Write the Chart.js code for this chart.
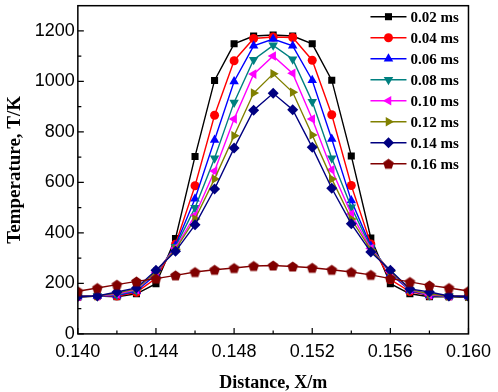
<!DOCTYPE html>
<html>
<head>
<meta charset="utf-8">
<script src="https://cdn.jsdelivr.net/npm/chart.js@4.4.1/dist/chart.umd.min.js"></script>
<style>
  body { margin: 0; background: #fff; }
  #wrap { width: 498px; height: 392px; }
</style>
</head>
<body>
<div id="wrap"><canvas id="myChart"></canvas></div>
<script>
// distance along X (m)
const distance = [0.140, 0.141, 0.142, 0.143, 0.144, 0.145, 0.146, 0.147, 0.148, 0.149, 0.150,
  0.151, 0.152, 0.153, 0.154, 0.155, 0.156, 0.157, 0.158, 0.159, 0.160];

const seriesNames = ["0.02 ms", "0.04 ms", "0.06 ms", "0.08 ms", "0.10 ms", "0.12 ms", "0.14 ms", "0.16 ms"];

// temperature (K) at each time
const t002 = [145, 150, 147, 159, 199, 378, 703, 1004, 1149, 1180, 1184, 1180, 1149, 1005, 705, 380, 199, 159, 147, 147, 145];
const t004 = [148, 150, 150, 165, 220, 355, 587, 866, 1082, 1170, 1176, 1174, 1084, 868, 588, 356, 215, 168, 152, 150, 148];
const t006 = [148, 150, 152, 170, 235, 350, 535, 768, 1000, 1141, 1168, 1141, 1005, 772, 528, 348, 238, 172, 152, 150, 148];
const t008 = [148, 150, 155, 172, 242, 345, 500, 696, 917, 1086, 1143, 1088, 920, 696, 502, 342, 245, 174, 153, 150, 148];
const t010 = [148, 150, 158, 175, 244, 340, 470, 645, 851, 1029, 1101, 1032, 851, 650, 475, 338, 246, 175, 155, 150, 148];
const t012 = [148, 150, 162, 178, 246, 335, 455, 614, 785, 954, 1030, 957, 788, 614, 455, 333, 248, 176, 158, 150, 148];
const t014 = [148, 150, 166, 182, 252, 327, 432, 574, 736, 886, 953, 888, 739, 577, 436, 324, 252, 178, 166, 150, 148];
const t016 = [169, 182, 195, 208, 219, 232, 245, 254, 261, 269, 271, 267, 262, 254, 245, 234, 219, 206, 192, 182, 170];

const xTicks = [0.140, 0.144, 0.148, 0.152, 0.156, 0.160];
const xMinor = [0.142, 0.146, 0.150, 0.154, 0.158];
const yTicks = [0, 200, 400, 600, 800, 1000, 1200];
const yMinor = [100, 300, 500, 700, 900, 1100];

const colors = ["#000000", "#ff0000", "#0000ff", "#008080", "#ff00ff", "#808000", "#000080", "#800000"];

// pentagon marker for the last series
const penta = document.createElement("canvas");
penta.width = 13; penta.height = 13;
(function () {
  const c = penta.getContext("2d");
  c.beginPath();
  for (let i = 0; i < 5; i++) {
    const a = -Math.PI / 2 + i * 2 * Math.PI / 5;
    const px = 6.5 + 5.6 * Math.cos(a), py = 7 + 5.6 * Math.sin(a);
    if (i === 0) c.moveTo(px, py); else c.lineTo(px, py);
  }
  c.closePath();
  c.fillStyle = "#800000";
  c.fill();
})();

const markers = [
  { style: "rect", radius: 5, rotation: 0 },
  { style: "circle", radius: 4.5, rotation: 0 },
  { style: "triangle", radius: 5.5, rotation: 0 },
  { style: "triangle", radius: 5.5, rotation: 180 },
  { style: "triangle", radius: 5.5, rotation: 270 },
  { style: "triangle", radius: 5.5, rotation: 90 },
  { style: "rectRot", radius: 5.5, rotation: 0 },
  { style: penta, radius: 6, rotation: 0 }
];

const allData = [t002, t004, t006, t008, t010, t012, t014, t016];

const datasets = allData.map((vals, i) => ({
  label: seriesNames[i],
  data: distance.map((x, j) => ({ x: x, y: vals[j] })),
  borderColor: colors[i],
  backgroundColor: colors[i],
  borderWidth: 1.4,
  pointStyle: markers[i].style,
  pointRadius: markers[i].radius,
  pointRotation: markers[i].rotation,
  pointBorderWidth: 0,
  pointBackgroundColor: colors[i],
  order: 8 - i
}));

const serif = "'Liberation Serif', 'Times New Roman', serif";
const sans = "'Liberation Sans', Arial, sans-serif";

const framePlugin = {
  id: "frame",
  afterDraw(chart) {
    const { ctx, chartArea: a, scales } = chart;
    ctx.save();
    ctx.strokeStyle = "#000";
    ctx.lineWidth = 1.5;
    ctx.strokeRect(a.left, a.top, a.right - a.left, a.bottom - a.top);
    ctx.lineWidth = 1.2;
    ctx.beginPath();
    xTicks.forEach(v => { const p = scales.x.getPixelForValue(v); ctx.moveTo(p, a.bottom); ctx.lineTo(p, a.bottom - 6); });
    xMinor.forEach(v => { const p = scales.x.getPixelForValue(v); ctx.moveTo(p, a.bottom); ctx.lineTo(p, a.bottom - 3.5); });
    yTicks.forEach(v => { const p = scales.y.getPixelForValue(v); ctx.moveTo(a.left, p); ctx.lineTo(a.left + 6, p); });
    yMinor.forEach(v => { const p = scales.y.getPixelForValue(v); ctx.moveTo(a.left, p); ctx.lineTo(a.left + 3.5, p); });
    ctx.stroke();
    ctx.restore();
  }
};

const legendPlugin = {
  id: "insideLegend",
  afterDatasetsDraw(chart) {
    const { ctx, chartArea: a } = chart;
    ctx.save();
    chart.data.datasets.forEach((ds, i) => {
      const y = a.top + 11 + i * 21;
      const x0 = a.right - 98, x1 = a.right - 62;
      ctx.strokeStyle = ds.borderColor;
      ctx.lineWidth = 1.4;
      ctx.beginPath();
      ctx.moveTo(x0, y); ctx.lineTo(x1, y);
      ctx.stroke();
      ctx.fillStyle = ds.borderColor;
      Chart.helpers.drawPoint(ctx, {
        pointStyle: ds.pointStyle, radius: ds.pointRadius, rotation: ds.pointRotation, borderWidth: 0
      }, (x0 + x1) / 2, y);
      ctx.fillStyle = "#000";
      ctx.font = "bold 15px " + serif;
      ctx.textBaseline = "middle";
      ctx.textAlign = "left";
      ctx.fillText(ds.label, x1 + 4, y + 1);
    });
    ctx.restore();
  }
};

const ctx = document.getElementById("myChart").getContext("2d");

const myChart = new Chart(ctx, {
  type: "line",
  data: { datasets: datasets },
  options: {
    responsive: true,
    maintainAspectRatio: false,
    animation: false,
    layout: { autoPadding: false, padding: { top: 1, right: 27, bottom: 0, left: 4 } },
    scales: {
      x: {
        type: "linear",
        min: 0.140,
        max: 0.160,
        afterBuildTicks: (axis) => { axis.ticks = xTicks.map(v => ({ value: v })); },
        ticks: {
          color: "#000",
          font: { family: sans, size: 18 },
          padding: 7,
          maxRotation: 0,
          callback: (v) => Number(v).toFixed(3)
        },
        grid: { display: false, drawTicks: false },
        border: { display: false },
        title: {
          display: true,
          text: "Distance, X/m",
          color: "#000",
          font: { family: serif, size: 18, weight: "bold", lineHeight: 1.0 },
          padding: { top: 4.5, bottom: 0 }
        }
      },
      y: {
        min: 0,
        max: 1300,
        afterBuildTicks: (axis) => { axis.ticks = yTicks.map(v => ({ value: v })); },
        ticks: {
          color: "#000",
          font: { family: sans, size: 18, lineHeight: 0.3 },
          padding: 3,
          callback: (v) => String(v)
        },
        grid: { display: false, drawTicks: false },
        border: { display: false },
        title: {
          display: true,
          text: "Temperature, T/K",
          color: "#000",
          font: { family: serif, size: 19, weight: "bold" },
          padding: { top: 0, bottom: 5 }
        }
      }
    },
    plugins: {
      legend: { display: false },
      tooltip: { enabled: false }
    }
  },
  plugins: [framePlugin, legendPlugin]
});
</script>
</body>
</html>
